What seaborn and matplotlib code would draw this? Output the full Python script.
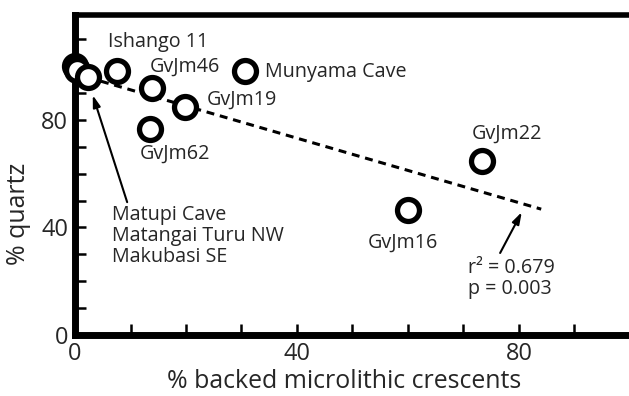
import numpy as np
import pandas as pd
import matplotlib
matplotlib.use('Agg')
import matplotlib.pyplot as plt
import seaborn as sns

# data
sites = ['Matupi Cave', 'Matangai Turu NW', 'Makubasi SE', 'Ishango 11', 'GvJm46',
         'GvJm62', 'GvJm19', 'Munyama Cave', 'GvJm16', 'GvJm22']
crescents = [0, 0.3, 2.3, 7.5, 13.8, 13.5, 19.8, 30.6, 60.0, 73.3]
quartz = [100, 98.7, 96.0, 98.2, 91.8, 76.5, 84.8, 98.2, 46.5, 64.7]

# regression line endpoints
fit_x = [2.3, 84]
fit_y = [95.8, 46.8]

x_ticks = list(range(0, 100, 10))
x_ticklabels = ['0', '', '', '', '40', '', '', '', '80', '']
y_ticks = list(range(0, 120, 10))
y_ticklabels = ['0', '', '', '', '40', '', '', '', '80', '', '', '']

df = pd.DataFrame({'site': sites, 'crescents': crescents, 'quartz': quartz})
fit = pd.DataFrame({'x': fit_x, 'y': fit_y})

sns.set_style('ticks')
plt.rcParams['font.family'] = ['Open Sans', 'DejaVu Sans']

fig = plt.figure(figsize=(6.29, 3.96), dpi=100)
ax = fig.add_axes([75 / 629, 61 / 396, 555 / 629, 320 / 396])

# dashed fit line under the points
sns.lineplot(data=fit, x='x', y='y', ax=ax, color='black', linewidth=2.2,
             dashes=False, zorder=1)
ax.lines[0].set_dashes((2.6, 1.9))

sns.scatterplot(data=df, x='crescents', y='quartz', ax=ax, s=250, marker='o',
                facecolor='white', edgecolor='black', linewidth=3.8,
                zorder=3, clip_on=False)

ax.set_xlim(0, 100)
ax.set_ylim(0, 119)
ax.set_xticks(x_ticks)
ax.set_xticklabels(x_ticklabels)
ax.set_yticks(y_ticks)
ax.set_yticklabels(y_ticklabels)
ax.tick_params(direction='in', length=8, width=1.8, labelsize=17, pad=5, color='black')

for side in ['left', 'bottom']:
    ax.spines[side].set_linewidth(5)
ax.spines['top'].set_linewidth(4)
ax.spines['right'].set_visible(False)
for sp in ax.spines.values():
    sp.set_color('black')

ax.set_xlabel('% backed microlithic crescents', fontsize=17.9)
ax.set_ylabel('% quartz', fontsize=17.9)
ax.xaxis.set_label_coords(0.485, -0.105)
ax.yaxis.set_label_coords(-0.08, 0.378)

# site labels
fs = 14.2
ax.text(6, 109, 'Ishango 11', fontsize=fs, va='center')
ax.text(13.5, 99.6, 'GvJm46', fontsize=fs, va='center')
ax.text(34.2, 97.8, 'Munyama Cave', fontsize=fs, va='center')
ax.text(23.8, 87.4, 'GvJm19', fontsize=fs, va='center')
ax.text(11.7, 67.3, 'GvJm62', fontsize=fs, va='center')
ax.text(71.5, 75, 'GvJm22', fontsize=fs, va='center')
ax.text(52.8, 34.2, 'GvJm16', fontsize=fs, va='center')

ax.text(6.6, 48.2, 'Matupi Cave\nMatangai Turu NW\nMakubasi SE', fontsize=fs,
        va='top', linespacing=1.05)
ax.annotate('', xy=(3.2, 89.2), xytext=(9.4, 49.4),
            arrowprops=dict(arrowstyle='-|>,head_length=0.7,head_width=0.22',
                            color='black', lw=1.5, shrinkA=0, shrinkB=0))

ax.text(70.8, 28.6, 'r² = 0.679\np = 0.003', fontsize=fs, va='top', linespacing=1.05)
ax.annotate('', xy=(80.5, 45.7), xytext=(76.6, 30.5),
            arrowprops=dict(arrowstyle='-|>,head_length=0.7,head_width=0.22',
                            color='black', lw=1.5, shrinkA=0, shrinkB=0))

fig.savefig('out.png', dpi=100)
